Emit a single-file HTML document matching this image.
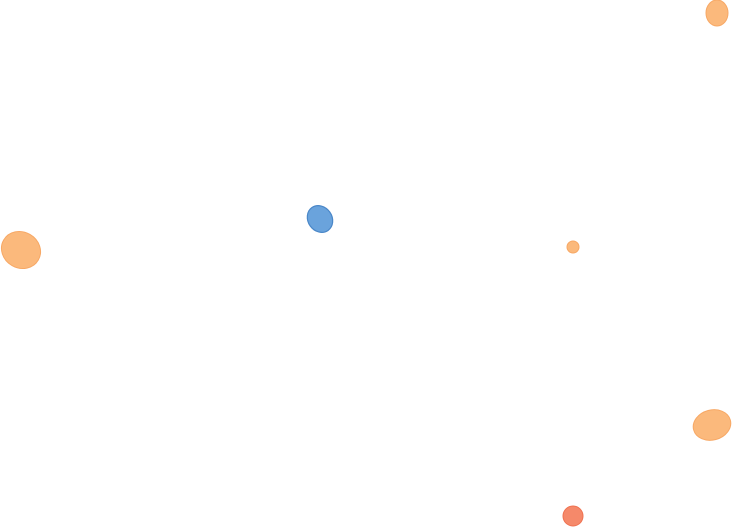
<!DOCTYPE html>
<html><head><style>html,body{margin:0;padding:0;background:#fff;width:732px;height:527px;overflow:hidden}</style></head>
<body>
<svg width="732" height="527" xmlns="http://www.w3.org/2000/svg">
<ellipse cx="717" cy="13" rx="11" ry="13" fill="#fbb97c" stroke="#f7a865" stroke-width="1"/>
<ellipse cx="320" cy="219" rx="12" ry="14" transform="rotate(-35 320 219)" fill="#6aa3dc" stroke="#4a87c8" stroke-width="1.2"/>
<ellipse cx="21" cy="250" rx="20" ry="18" transform="rotate(30 21 250)" fill="#fbb97c" stroke="#f7a865" stroke-width="1"/>
<circle cx="573" cy="247" r="6" fill="#fbb97c" stroke="#f7a865" stroke-width="1"/>
<ellipse cx="712" cy="425" rx="19" ry="15" transform="rotate(-15 712 425)" fill="#fbb97c" stroke="#f7a865" stroke-width="1"/>
<circle cx="573" cy="516" r="10" fill="#f5896a" stroke="#ef7150" stroke-width="1"/>
</svg>
</body></html>
